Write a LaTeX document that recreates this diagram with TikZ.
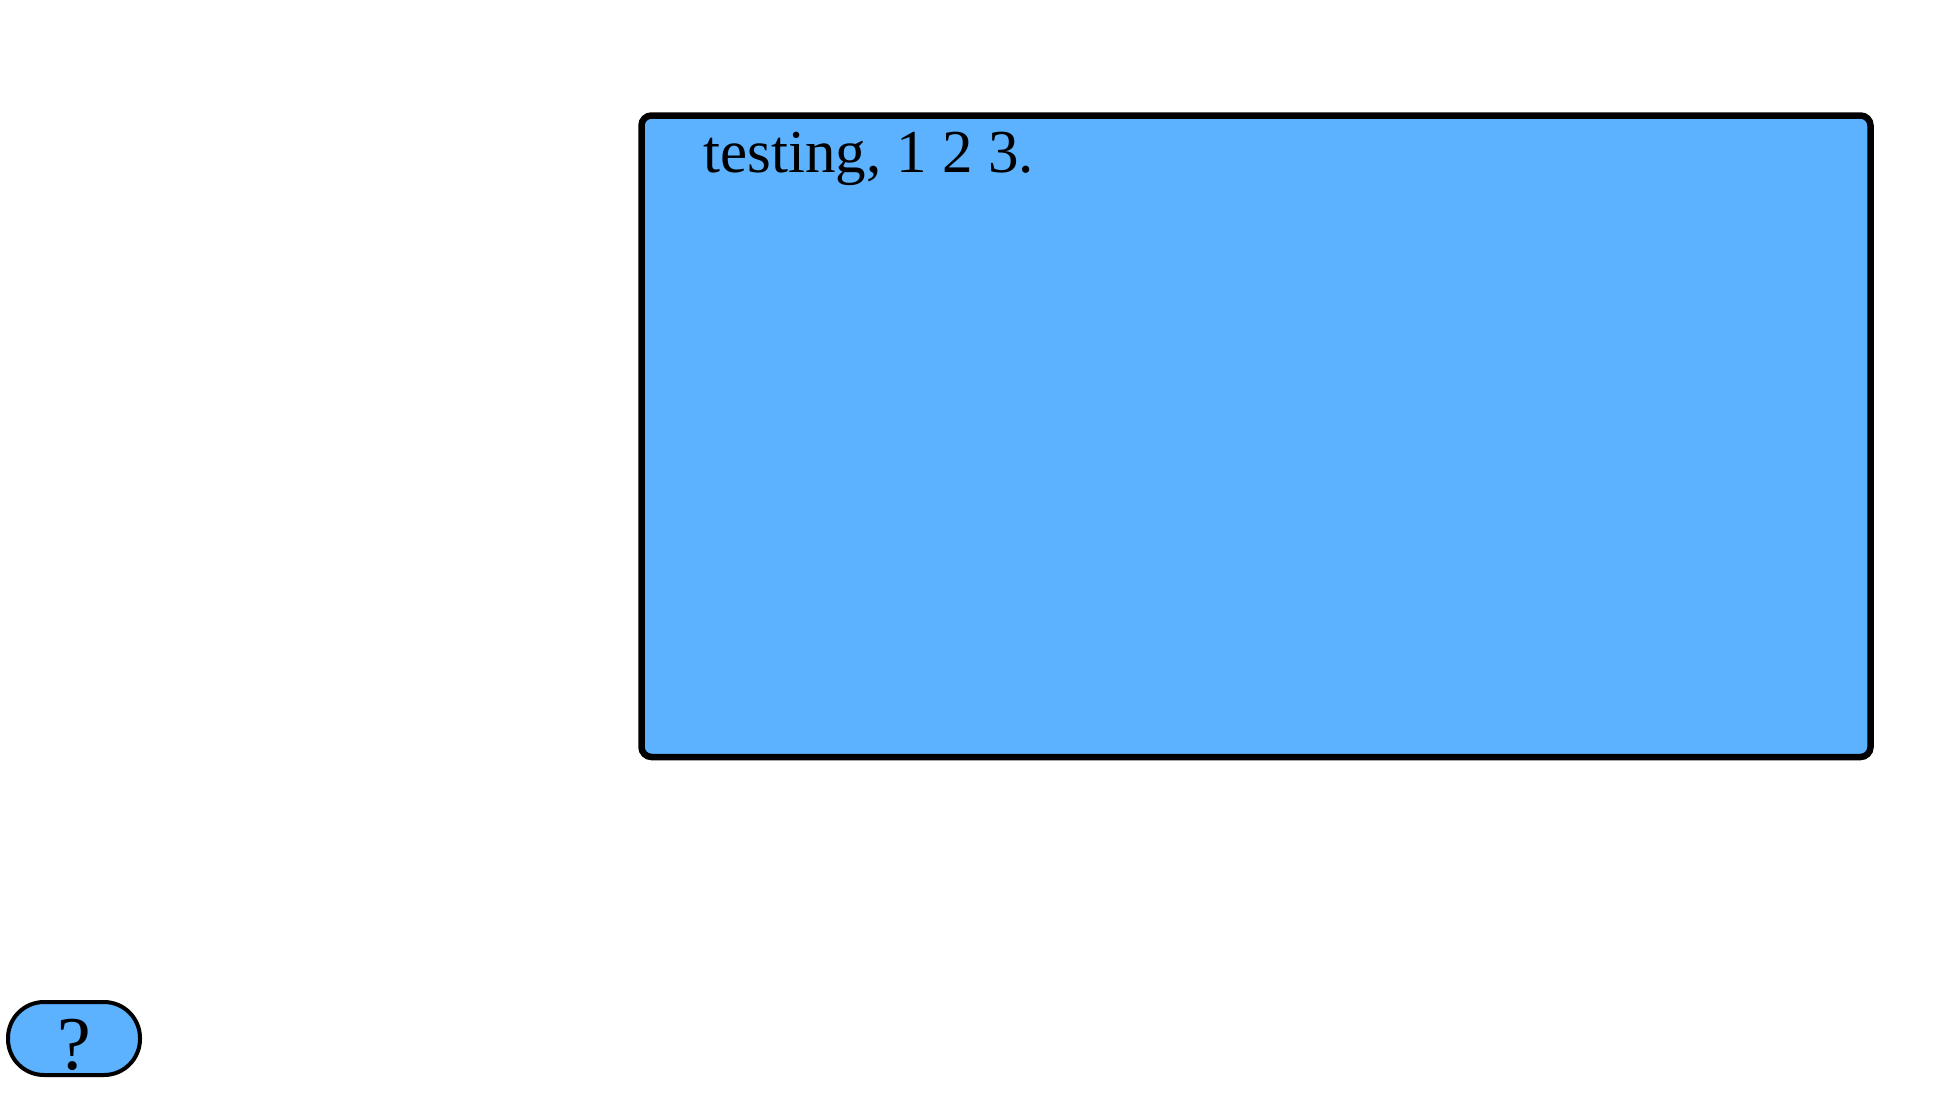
\documentclass[tikz,border=0pt]{standalone}
\usepackage{fontspec}
\setmainfont{Liberation Serif}
\usepackage{xcolor}
\usepackage{tikz}
\usetikzlibrary{positioning,calc}
\definecolor{panelblue}{RGB}{92,178,255}

\begin{document}
\begin{tikzpicture}[
    x=0.5pt, y=-0.5pt,
    panel/.style={rectangle, draw, line width=3.25pt, rounded corners=5pt, fill=panelblue, minimum width=614.5pt, minimum height=320.75pt, inner sep=0pt},
    pill/.style={rectangle, draw, line width=2pt, rounded corners=18pt, fill=panelblue, minimum width=66pt, minimum height=36.5pt, inner sep=0pt, text height=31pt, text depth=0pt, font=\fontsize{38}{42}\selectfont}
]
\useasboundingbox (0,0) rectangle (1948,1114);

% Main panel
\node[panel] (panel) at (1256,436.25) {};

% Panel caption
\node[anchor=base west, inner sep=0pt, font=\fontsize{30.5}{34}\selectfont] (caption) at ($(panel.north west)+(65,60)$) {testing, 1 2 3.};

% Help button
\node[pill] (help) at (74,1038.5) {?};

\end{tikzpicture}
\end{document}
